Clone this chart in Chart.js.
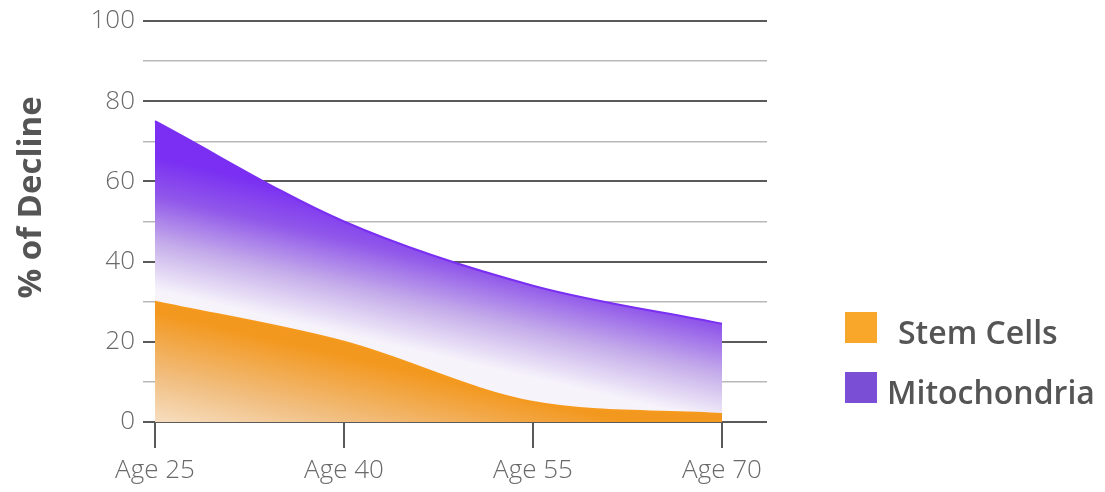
<!DOCTYPE html>
<html>
<head>
<meta charset="utf-8">
<script src="https://cdn.jsdelivr.net/npm/chart.js@4.4.1/dist/chart.umd.min.js"></script>
<style>
  html, body { margin: 0; padding: 0; background: #ffffff; }
  #wrap { position: relative; width: 1105px; height: 492px; }
  #legend { position: absolute; left: 845px; top: 312px; font-family: "Open Sans", sans-serif; font-weight: 600; font-size: 32px; color: #555555; }
  .item { position: absolute; left: 0; height: 31px; white-space: nowrap; }
  .sw { position: absolute; left: 0; top: 0; width: 32px; height: 31px; }
  .lb { position: absolute; top: -1px; line-height: 42px; }
</style>
</head>
<body>
<div id="wrap">
  <canvas id="c" width="1105" height="492"></canvas>
  <div id="legend"></div>
</div>
<script>
const ages = [25, 40, 55, 70];
const stemCells = [30, 20, 5, 2];
const mitochondria = [75, 50, 34, 24.5];
const seriesLabels = ["Stem Cells", "Mitochondria"];
const yTicks = [0, 20, 40, 60, 80, 100];
const yAxisTitle = "% of Decline";

const legendSwatch = ["#f8a72a", "#7a4fd6"];
const legendTextLeft = [53, 42];
const legendTop = [0, 60];

function diagGradient(chart, baseVal, dist, stops) {
  const area = chart.chartArea;
  if (!area) return null;
  const xs = chart.scales.x, ys = chart.scales.y;
  const x0 = xs.getPixelForValue(ages[0]);
  const y0 = ys.getPixelForValue(baseVal);
  const nx = 0.227, ny = -0.974;
  const g = chart.ctx.createLinearGradient(x0, y0, x0 + nx * dist, y0 + ny * dist);
  stops.forEach(s => g.addColorStop(s[0], s[1]));
  return g;
}

// y-axis title, centred a little above the plot's middle as in the reference
const yTitlePlugin = {
  id: "yTitle",
  afterDraw(chart) {
    const { ctx } = chart;
    const ys = chart.scales.y;
    const cy = ys.getPixelForValue(56);
    ctx.save();
    ctx.translate(32, cy);
    ctx.rotate(-Math.PI / 2);
    ctx.font = "bold 33px 'Open Sans', sans-serif";
    ctx.fillStyle = "#555555";
    ctx.textAlign = "center";
    ctx.textBaseline = "middle";
    ctx.fillText(yAxisTitle, 0, 0);
    ctx.restore();
  }
};

const data = {
  datasets: [
    {
      label: seriesLabels[0],
      data: ages.map((a, i) => ({ x: a, y: stemCells[i] })),
      borderColor: "#f59a1c",
      borderWidth: 2,
      pointRadius: 0,
      cubicInterpolationMode: "monotone",
      fill: "origin",
      backgroundColor: (ctx) => diagGradient(ctx.chart, -2, 115, [
        [0, "#f8e4cc"], [0.45, "#f1bf82"], [1, "#f3981f"]
      ])
    },
    {
      label: seriesLabels[1],
      data: ages.map((a, i) => ({ x: a, y: mitochondria[i] })),
      borderColor: "#7a2ff2",
      borderWidth: 2,
      pointRadius: 0,
      cubicInterpolationMode: "monotone",
      fill: "origin",
      backgroundColor: (ctx) => diagGradient(ctx.chart, 33, 130, [
        [0, "#f6f3fb"], [0.35, "#c6aeea"], [0.7, "#9158ea"], [1, "#7a2ff2"]
      ])
    }
  ]
};

const tickFont = { family: "'Open Sans', sans-serif", size: 26, weight: "300" };

new Chart(document.getElementById("c"), {
  type: "line",
  data,
  plugins: [yTitlePlugin],
  options: {
    responsive: false,
    animation: false,
    devicePixelRatio: 1,
    layout: { padding: { left: 0, right: 338, top: 21, bottom: 0 } },
    plugins: { legend: { display: false }, tooltip: { enabled: false } },
    scales: {
      x: {
        type: "linear",
        min: 24.05,
        max: 73.57,
        afterBuildTicks: (s) => { s.ticks = ages.map(v => ({ value: v })); },
        afterFit: (s) => { s.height = 70; s.paddingLeft = 0; s.paddingRight = 0; },
        ticks: {
          autoSkip: false, maxRotation: 0, padding: 7,
          color: "#6a6a6a", font: tickFont,
          callback: (v) => "Age " + v
        },
        grid: { drawOnChartArea: false, drawTicks: true, tickLength: 26, color: "#5a5a5a", lineWidth: 2 },
        border: { display: false }
      },
      y: {
        min: 0, max: 100,
        z: 1,
        afterFit: (s) => { s.width = 143; s.paddingTop = 0; s.paddingBottom = 0; },
        ticks: {
          stepSize: 10, padding: 8, color: "#6a6a6a", font: tickFont,
          callback: (v) => (yTicks.includes(v) ? String(v) : "")
        },
        grid: {
          drawTicks: false,
          color: (c) => (c.tick && yTicks.includes(c.tick.value) ? "#5a5a5a" : "#b8b8b8"),
          lineWidth: (c) => (c.tick && yTicks.includes(c.tick.value) ? 2 : 1.5)
        },
        border: { display: false }
      }
    }
  }
});

const lg = document.getElementById("legend");
seriesLabels.forEach((name, i) => {
  const it = document.createElement("div");
  it.className = "item";
  it.style.top = legendTop[i] + "px";
  const sw = document.createElement("div");
  sw.className = "sw";
  sw.style.background = legendSwatch[i];
  const lb = document.createElement("div");
  lb.className = "lb";
  lb.style.left = legendTextLeft[i] + "px";
  lb.textContent = name;
  it.appendChild(sw);
  it.appendChild(lb);
  lg.appendChild(it);
});
</script>
</body>
</html>
